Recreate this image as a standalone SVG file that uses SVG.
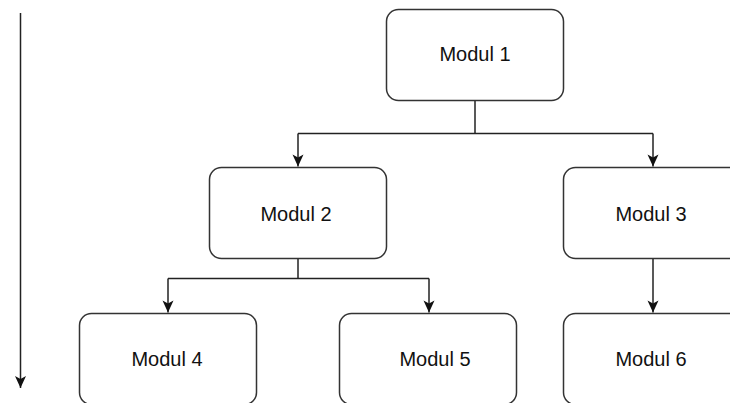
<svg xmlns="http://www.w3.org/2000/svg" width="730" height="403" viewBox="0 0 730 403">
<style>
.box{fill:#ffffff;stroke:#333333;stroke-width:1.5}
.lbl{font-family:"Liberation Sans",Arial,sans-serif;font-size:20px;fill:#111111;text-anchor:middle}
.edge{fill:none;stroke:#222222;stroke-width:1.5}
</style>
<defs>
<marker id="arr" markerUnits="userSpaceOnUse" markerWidth="14" markerHeight="14" viewBox="-13 -7 14 14" refX="0" refY="0" orient="auto">
<path d="M0,0 L-12,-5.5 L-9,0 L-12,5.5 Z" fill="#111111"/>
</marker>
</defs>
<rect width="730" height="403" fill="#ffffff"/>
<g id="connectors">
<path class="edge" d="M20.5,13 V388" marker-end="url(#arr)"/>
<path class="edge" d="M475,100.5 V133.5"/>
<path class="edge" d="M298,133.5 H653"/>
<path class="edge" d="M298,133.5 V166.5" marker-end="url(#arr)"/>
<path class="edge" d="M653,133.5 V166.5" marker-end="url(#arr)"/>
<path class="edge" d="M298,258.5 V278.5"/>
<path class="edge" d="M168,278.5 H429"/>
<path class="edge" d="M168,278.5 V312.5" marker-end="url(#arr)"/>
<path class="edge" d="M429,278.5 V312.5" marker-end="url(#arr)"/>
<path class="edge" d="M653,258.5 V312.5" marker-end="url(#arr)"/>
</g>
<g id="modul1"><rect class="box" x="386.5" y="9.5" width="177" height="91" rx="12"/><text class="lbl" x="475" y="61">Modul 1</text></g>
<g id="modul2"><rect class="box" x="209.5" y="167.5" width="177" height="91" rx="12"/><text class="lbl" x="296" y="220.5">Modul 2</text></g>
<g id="modul3"><rect class="box" x="563.5" y="167.5" width="178" height="91" rx="12"/><text class="lbl" x="651" y="220.5">Modul 3</text></g>
<g id="modul4"><rect class="box" x="79.5" y="313.5" width="177" height="91" rx="12"/><text class="lbl" x="167" y="366">Modul 4</text></g>
<g id="modul5"><rect class="box" x="339.5" y="313.5" width="177" height="91" rx="12"/><text class="lbl" x="435" y="366">Modul 5</text></g>
<g id="modul6"><rect class="box" x="563.5" y="313.5" width="178" height="91" rx="12"/><text class="lbl" x="651" y="366">Modul 6</text></g>
</svg>
